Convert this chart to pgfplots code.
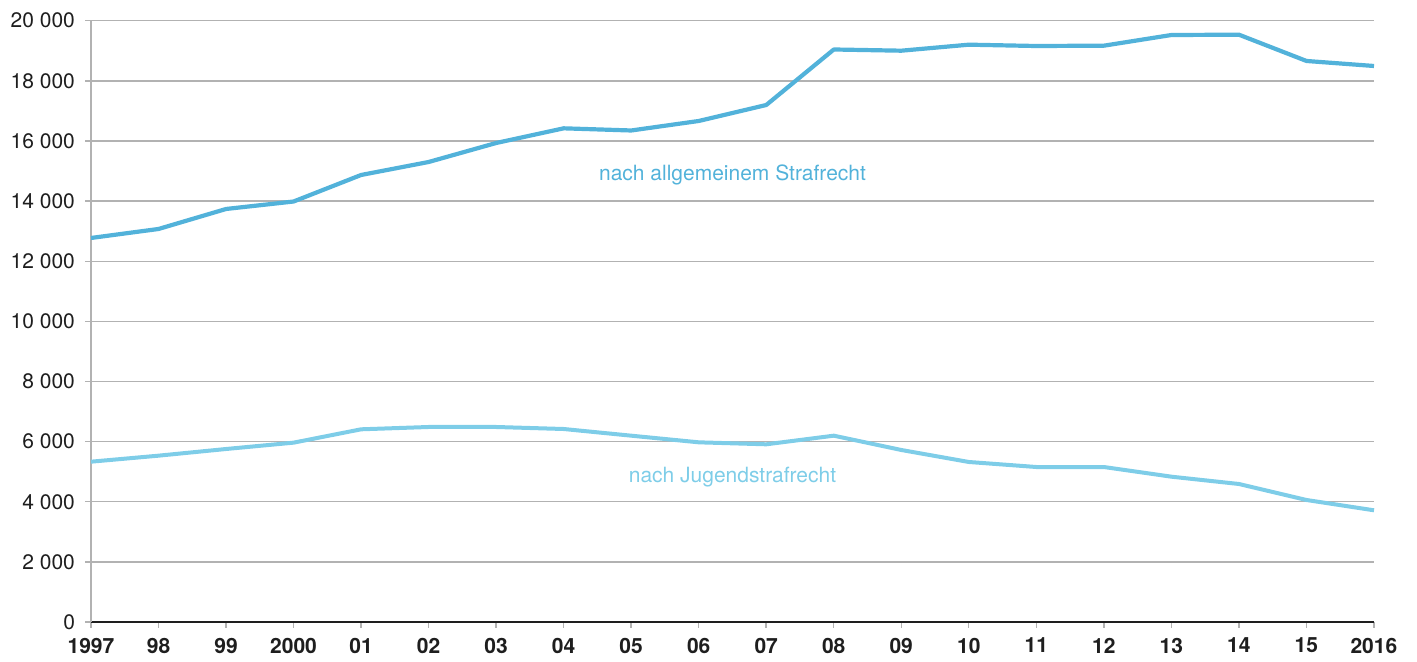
\documentclass[border=0pt]{standalone}
\usepackage{pgfplots}
\pgfplotsset{compat=1.18}
\usepackage{fontspec}
\setmainfont{TeX Gyre Heros}
\definecolor{upper}{RGB}{82,178,218}
\definecolor{lower}{RGB}{126,205,232}
\definecolor{gridc}{RGB}{178,178,178}
\definecolor{txt}{RGB}{30,30,30}
\begin{document}
\begin{tikzpicture}
\path[use as bounding box] (-45.5pt,-20pt) rectangle (663pt,311pt);
\begin{axis}[
  at={(0,0)}, anchor=south west,
  scale only axis, width=641.5pt, height=300.65pt,
  xmin=1997, xmax=2016, ymin=0, ymax=20000,
  scaled y ticks=false,
  axis x line*=bottom, axis y line*=left,
  x axis line style={txt, line width=1pt},
  y axis line style={gridc, line width=0.8pt},
  ymajorgrids, grid style={gridc, line width=0.7pt},
  xtick={1997,...,2016},
  xticklabels={1997,98,99,2000,01,02,03,04,05,06,07,08,09,10,11,12,13,14,15,2016},
  ytick={0,2000,...,20000},
  yticklabels={0,2\ 000,4\ 000,6\ 000,8\ 000,10\ 000,12\ 000,14\ 000,16\ 000,18\ 000,20\ 000},
  tick align=outside, major tick length=3pt,
  tick style={gridc, line width=0.7pt},
  xticklabel style={font=\fontsize{10.5}{12}\selectfont\bfseries, text=txt, yshift=-1.5pt},
  yticklabel style={font=\fontsize{10.5}{12}\selectfont, text=txt, xshift=-1.5pt},
  clip=false,
]
\addplot[upper, line width=2.1pt, line join=round] coordinates {
(1997,12773) (1998,13072) (1999,13737) (2000,13986) (2001,14868)
(2002,15300) (2003,15932) (2004,16420) (2005,16348) (2006,16664)
(2007,17196) (2008,19042) (2009,19002) (2010,19202) (2011,19158)
(2012,19169) (2013,19524) (2014,19534) (2015,18660) (2016,18493)};
\addplot[lower, line width=2pt, line join=round] coordinates {
(1997,5332) (1998,5532) (1999,5754) (2000,5965) (2001,6409)
(2002,6486) (2003,6486) (2004,6419) (2005,6197) (2006,5976)
(2007,5910) (2008,6197) (2009,5721) (2010,5322) (2011,5155)
(2012,5155) (2013,4833) (2014,4590) (2015,4058) (2016,3715)};
\node[text=upper, font=\fontsize{10.5}{12}\selectfont] at (axis cs:2006.5,14868) {nach allgemeinem Strafrecht};
\node[text=lower, font=\fontsize{10.5}{12}\selectfont] at (axis cs:2006.5,4833) {nach Jugendstrafrecht};
\end{axis}
\end{tikzpicture}
\end{document}
